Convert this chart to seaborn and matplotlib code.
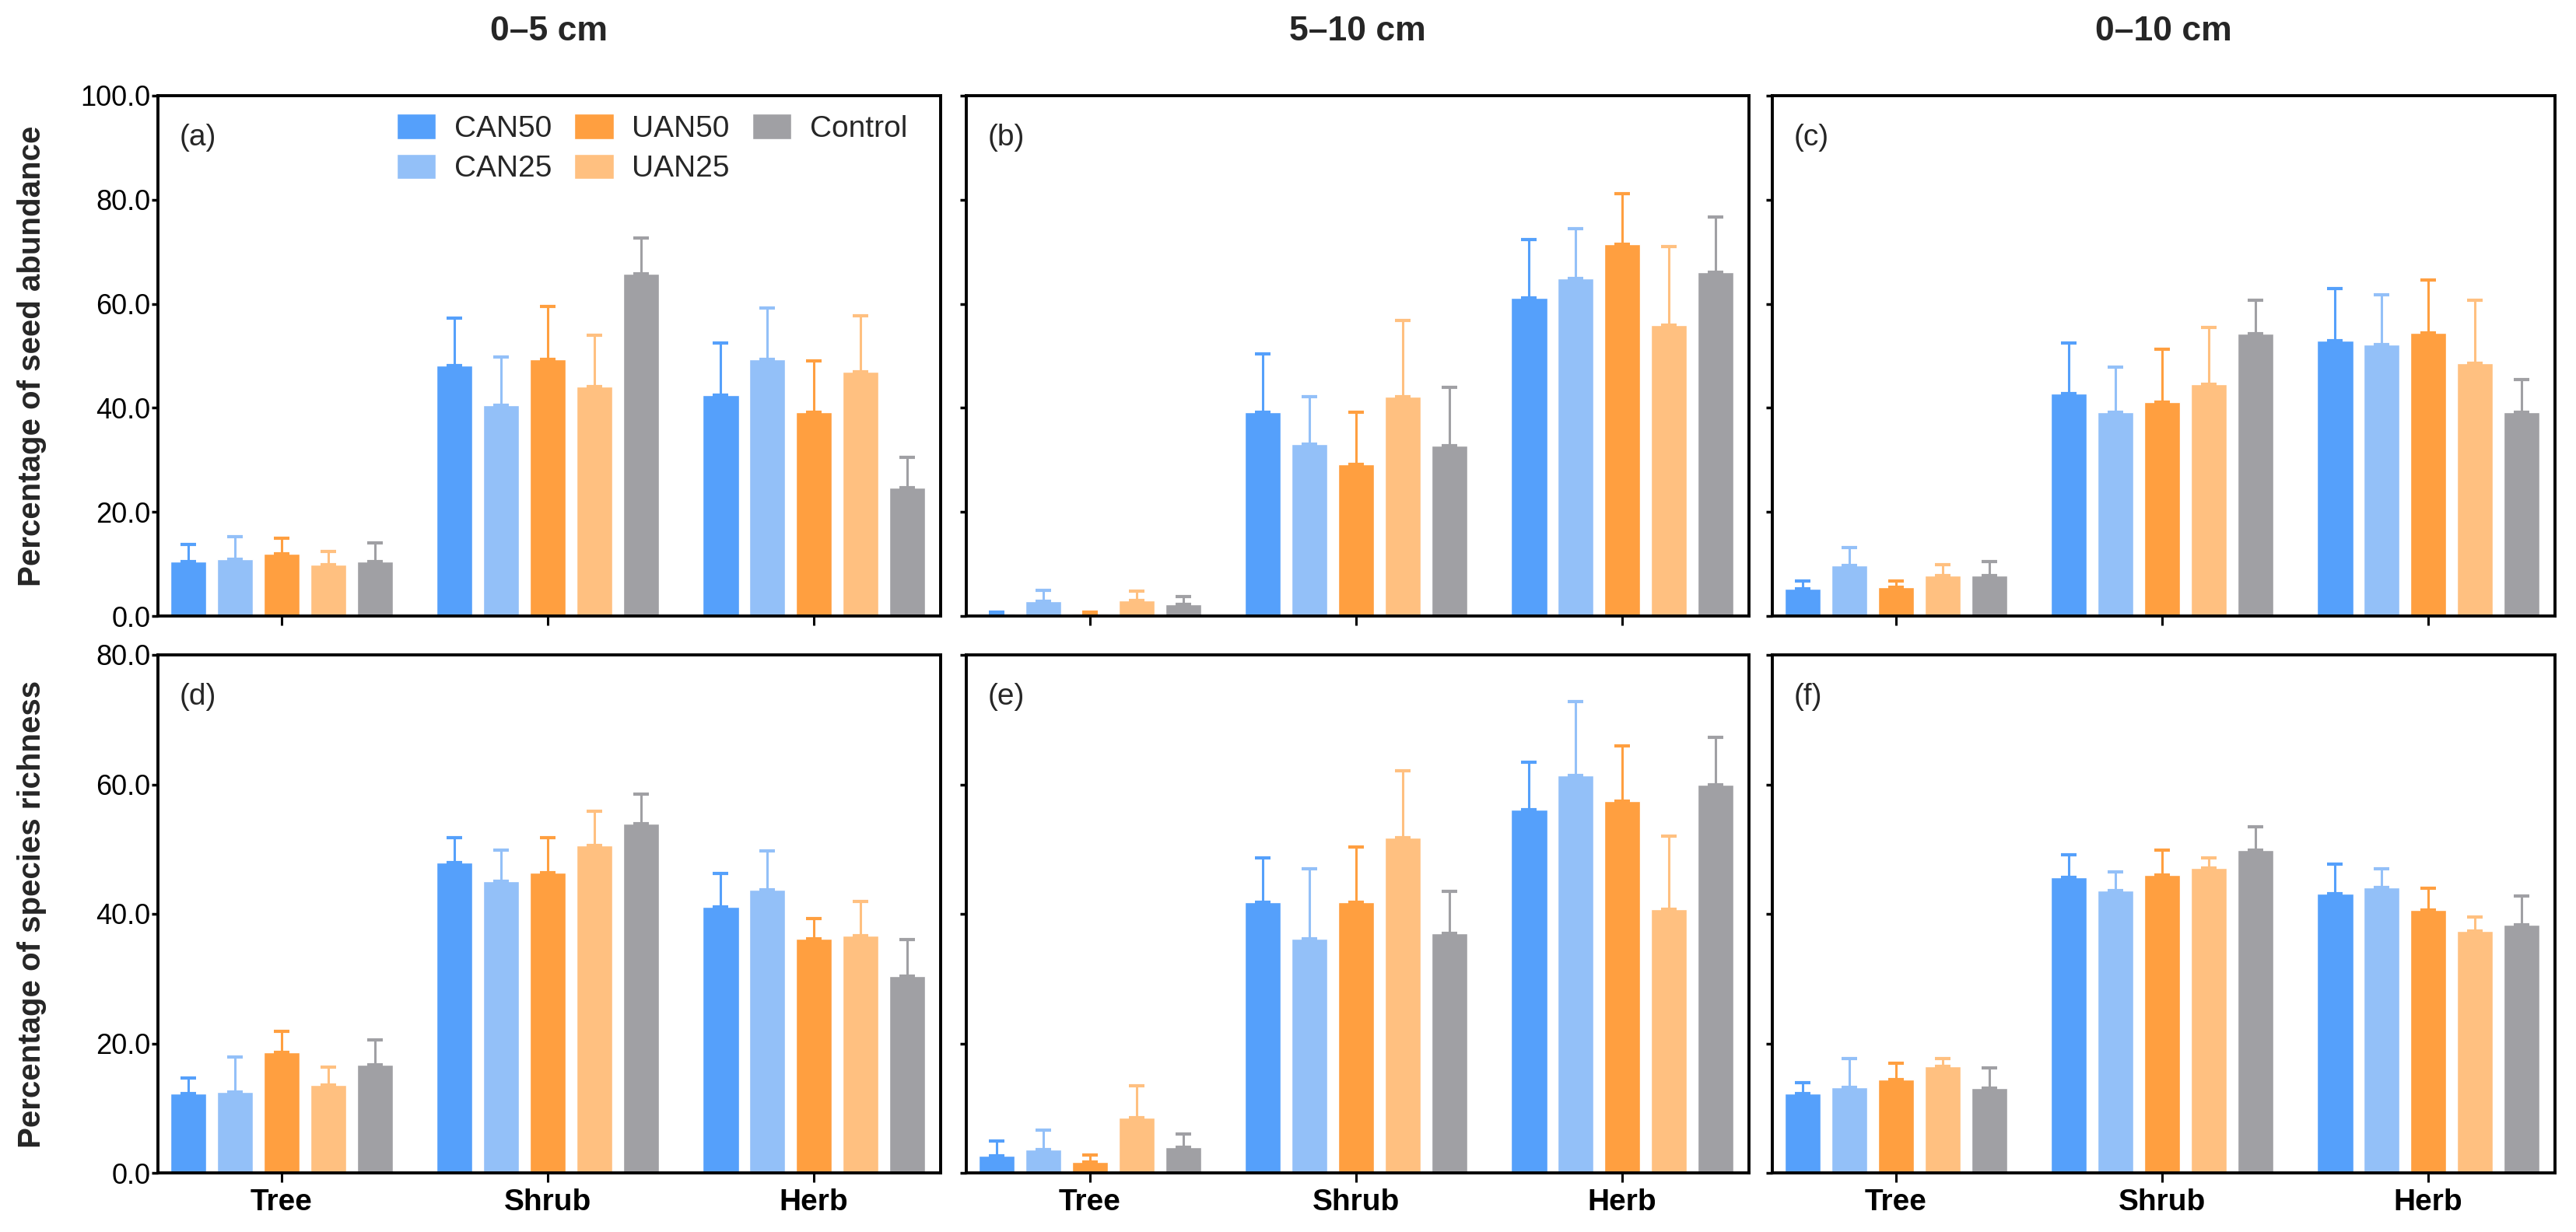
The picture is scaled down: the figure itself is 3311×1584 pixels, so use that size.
import numpy as np
import pandas as pd
import matplotlib
matplotlib.use("Agg")
import matplotlib.pyplot as plt
from matplotlib.ticker import FormatStrFormatter
import seaborn as sns

# ---------------- data ----------------
categories = ["Tree", "Shrub", "Herb"]
treatments = ["CAN50", "CAN25", "UAN50", "UAN25", "Control"]
colors = ["#55A0FB", "#93C0F8", "#FF9F40", "#FFC080", "#A0A0A4"]
depths = ["0\u20135 cm", "5\u201310 cm", "0\u201310 cm"]
panel_letters = ["(a)", "(b)", "(c)", "(d)", "(e)", "(f)"]
row_labels = ["Percentage of seed abundance", "Percentage of species richness"]

# means: rows = treatments (CAN50, CAN25, UAN50, UAN25, Control); cols = Tree, Shrub, Herb
a_mean = [[10.5, 48.2, 42.4], [10.9, 40.5, 49.4], [12.0, 49.4, 39.2], [9.8, 44.1, 47.0], [10.5, 65.7, 24.6]]
a_top = [[13.7, 57.2, 52.5], [15.3, 49.8, 59.2], [14.9, 59.5, 49.0], [12.4, 54.0, 57.7], [14.1, 72.7, 30.5]]
b_mean = [[0.5, 39.2, 61.1], [2.8, 33.1, 64.9], [0.5, 29.1, 71.4], [3.0, 42.1, 55.9], [2.3, 32.7, 66.1]]
b_top = [[0.7, 50.4, 72.3], [5.0, 42.1, 74.4], [0.7, 39.1, 81.1], [4.8, 56.8, 71.0], [3.7, 44.0, 76.7]]
c_mean = [[5.2, 42.8, 52.9], [9.7, 39.2, 52.2], [5.5, 41.1, 54.4], [7.8, 44.6, 48.6], [7.8, 54.2, 39.2]]
c_top = [[6.7, 52.4, 62.9], [13.1, 47.8, 61.8], [6.8, 51.2, 64.6], [9.8, 55.5, 60.7], [10.5, 60.7, 45.4]]
d_mean = [[12.2, 47.9, 41.1], [12.5, 45.0, 43.7], [18.6, 46.4, 36.2], [13.6, 50.6, 36.6], [16.7, 53.9, 30.4]]
d_top = [[14.6, 51.8, 46.3], [17.9, 49.8, 49.7], [21.9, 51.8, 39.3], [16.3, 55.9, 41.9], [20.6, 58.5, 36.0]]
e_mean = [[2.6, 41.8, 56.1], [3.6, 36.2, 61.4], [1.7, 41.8, 57.4], [8.5, 51.8, 40.7], [4.0, 37.0, 60.0]]
e_top = [[4.9, 48.7, 63.4], [6.6, 47.0, 72.8], [2.8, 50.3, 66.0], [13.5, 62.1, 52.0], [6.0, 43.5, 67.3]]
f_mean = [[12.2, 45.7, 43.1], [13.2, 43.6, 44.1], [14.4, 46.0, 40.6], [16.4, 47.1, 37.3], [13.1, 49.9, 38.3]]
f_top = [[13.9, 49.1, 47.7], [17.7, 46.5, 47.0], [16.9, 49.9, 44.0], [17.6, 48.6, 39.5], [16.2, 53.5, 42.8]]

means = [a_mean, b_mean, c_mean, d_mean, e_mean, f_mean]
tops = [a_top, b_top, c_top, d_top, e_top, f_top]
row_ymax = [100, 80]

# ---------------- style ----------------
sns.set_style("ticks")
plt.rcParams["font.family"] = ["Liberation Sans", "DejaVu Sans"]
plt.rcParams["axes.linewidth"] = 2.8

W, H = 3311, 1584
fig = plt.figure(figsize=(W / 100, H / 100), dpi=100)

col_left = [203, 1242, 2278]
col_w = 1006
row_top = [123, 842]
row_bot = [792, 1508]

for r in range(2):
    for c in range(3):
        k = r * 3 + c
        ax = fig.add_axes([col_left[c] / W, 1 - row_bot[r] / H,
                           col_w / W, (row_bot[r] - row_top[r]) / H])
        recs = []
        for ti, t in enumerate(treatments):
            for ci, cat in enumerate(categories):
                recs.append({"Life form": cat, "Treatment": t,
                             "value": means[k][ti][ci],
                             "err": tops[k][ti][ci] - means[k][ti][ci]})
        df = pd.DataFrame(recs)
        sns.barplot(data=df, x="Life form", y="value", hue="Treatment",
                    order=categories, hue_order=treatments, palette=colors,
                    saturation=1, width=0.875, gap=0.23, errorbar=None,
                    legend=(k == 0), ax=ax)
        bar_conts = list(ax.containers)
        # upward-only error bars at the bar positions
        for ti, cont in enumerate(bar_conts):
            for ci, bar in enumerate(cont.patches):
                xc = bar.get_x() + bar.get_width() / 2
                h = bar.get_height()
                e = df[(df["Treatment"] == treatments[ti]) &
                       (df["Life form"] == categories[ci])]["err"].values[0]
                ax.errorbar([xc], [h], yerr=[[0], [e]], fmt="none",
                            ecolor=colors[ti], elinewidth=2.2,
                            capsize=7.5, capthick=3)
        ax.set_xlim(-0.465, 2.476)
        ymax = row_ymax[r]
        ax.set_ylim(0, ymax)
        ax.set_yticks(np.arange(0, ymax + 1, 20))
        ax.yaxis.set_major_formatter(FormatStrFormatter("%.1f"))
        ax.set_xlabel("")
        ax.set_ylabel("")
        for sp in ax.spines.values():
            sp.set_visible(True)
            sp.set_linewidth(2.8)
            sp.set_color("black")
        ax.tick_params(axis="y", direction="out", length=6, width=2.5,
                       labelsize=26, pad=1, colors="black")
        ax.tick_params(axis="x", direction="out", length=8.5, width=2.2,
                       labelsize=28, pad=6, colors="black")
        for lab in ax.get_xticklabels():
            lab.set_fontweight("bold")
        if c != 0:
            ax.tick_params(labelleft=False)
        else:
            ax.set_ylabel(row_labels[r], fontsize=29, fontweight="bold")
            ax.yaxis.set_label_coords(-0.142, 0.5)
        if r == 0:
            ax.tick_params(labelbottom=False)
            ax.text(0.5, 1 + 82 / (row_bot[0] - row_top[0]), depths[c],
                    transform=ax.transAxes, ha="center", va="center",
                    fontsize=32, fontweight="bold")
        ax.text(0.027, 1 - 54 / (row_bot[r] - row_top[r]), panel_letters[k],
                transform=ax.transAxes, ha="left", va="center", fontsize=28)
        if k == 0:
            leg = ax.get_legend()
            handles = leg.legend_handles
            labels = [t.get_text() for t in leg.texts]
            leg.remove()
            ax.legend(handles, labels, ncol=3, loc="upper left",
                      bbox_to_anchor=(0.305, 0.965), frameon=False,
                      fontsize=28, handlelength=1.3, handleheight=0.9,
                      handletextpad=0.6, columnspacing=0.75,
                      labelspacing=0.35, borderaxespad=0, borderpad=0)

fig.savefig("out.png", dpi=100)
